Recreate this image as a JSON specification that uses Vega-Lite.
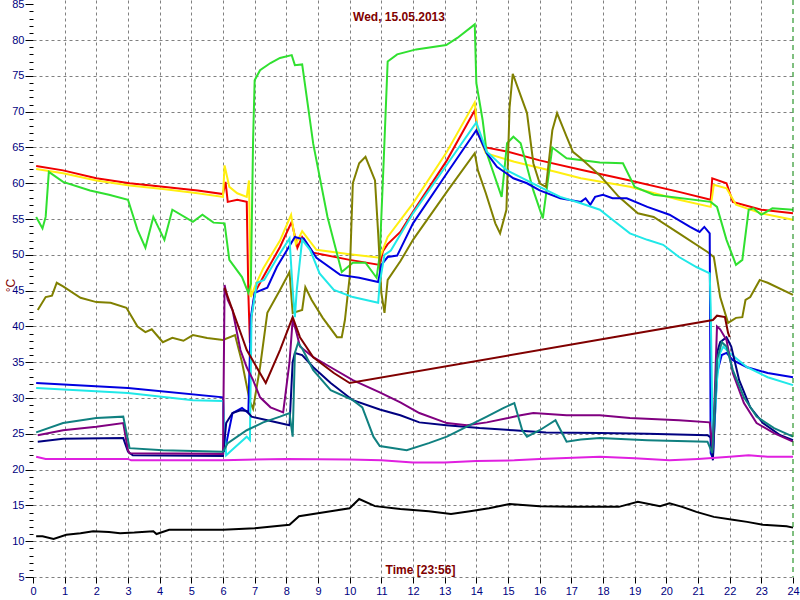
{
  "$schema": "https://vega.github.io/schema/vega-lite/v6.json",
  "width": 760,
  "height": 577,
  "autosize": "none",
  "padding": {"left": 33, "top": 0, "right": 7, "bottom": 23},
  "background": "#ffffff",
  "config": {"view": {"stroke": null}},
  "title": {"text": "Wed, 15.05.2013", "offset": -31, "baseline": "middle", "dx": -14, "color": "#800000", "font": "Liberation Sans", "fontSize": 12, "fontWeight": "bold", "anchor": "middle", "frame": "group"},
  "layer": [
    {
      "data": {"values": [
        {"s":"red","h":0.1,"v":62.4},{"s":"red","h":0.95,"v":61.8},{"s":"red","h":2,"v":60.7},{"s":"red","h":3.05,"v":60.0},{"s":"red","h":4.1,"v":59.5},{"s":"red","h":5.2,"v":59.0},{"s":"red","h":6.0,"v":58.5},{"s":"red","h":6.08,"v":60.2},{"s":"red","h":6.15,"v":57.4},{"s":"red","h":6.45,"v":57.7},{"s":"red","h":6.75,"v":57.4},{"s":"red","h":6.8,"v":44.7},{"s":"red","h":6.85,"v":37.7},{"s":"red","h":6.9,"v":41.3},{"s":"red","h":7.0,"v":44.7},{"s":"red","h":7.27,"v":46.9},{"s":"red","h":7.8,"v":51.1},{"s":"red","h":8.17,"v":54.6},{"s":"red","h":8.35,"v":51.0},{"s":"red","h":8.5,"v":52.5},{"s":"red","h":8.85,"v":50.3},{"s":"red","h":10.0,"v":49.3},{"s":"red","h":10.95,"v":48.6},{"s":"red","h":11.05,"v":50.5},{"s":"red","h":11.2,"v":51.5},{"s":"red","h":11.6,"v":53.2},{"s":"red","h":12.0,"v":56.0},{"s":"red","h":13.07,"v":63.2},{"s":"red","h":13.95,"v":70.2},{"s":"red","h":14.05,"v":67.0},{"s":"red","h":14.3,"v":65.0},{"s":"red","h":15.0,"v":64.4},{"s":"red","h":16.0,"v":63.2},{"s":"red","h":17.3,"v":61.9},{"s":"red","h":18.85,"v":60.4},{"s":"red","h":20.4,"v":58.8},{"s":"red","h":21.4,"v":57.7},{"s":"red","h":21.45,"v":60.7},{"s":"red","h":21.9,"v":60.0},{"s":"red","h":22.1,"v":57.4},{"s":"red","h":23.0,"v":56.3},{"s":"red","h":24.0,"v":55.8},

        {"s":"yellow","h":0.1,"v":62.0},{"s":"yellow","h":0.95,"v":61.4},{"s":"yellow","h":2,"v":60.4},{"s":"yellow","h":3.05,"v":59.7},{"s":"yellow","h":4.1,"v":59.2},{"s":"yellow","h":5.2,"v":58.6},{"s":"yellow","h":6.0,"v":58.1},{"s":"yellow","h":6.05,"v":62.5},{"s":"yellow","h":6.2,"v":59.5},{"s":"yellow","h":6.45,"v":58.6},{"s":"yellow","h":6.75,"v":58.1},{"s":"yellow","h":6.82,"v":60.4},{"s":"yellow","h":6.88,"v":44.1},{"s":"yellow","h":7.0,"v":45.5},{"s":"yellow","h":7.27,"v":48.1},{"s":"yellow","h":7.8,"v":52.0},{"s":"yellow","h":8.15,"v":55.6},{"s":"yellow","h":8.3,"v":51.5},{"s":"yellow","h":8.5,"v":53.3},{"s":"yellow","h":8.95,"v":50.7},{"s":"yellow","h":10.0,"v":50.1},{"s":"yellow","h":10.95,"v":49.6},{"s":"yellow","h":11.2,"v":52.5},{"s":"yellow","h":12.0,"v":57.2},{"s":"yellow","h":13.07,"v":64.4},{"s":"yellow","h":13.95,"v":71.3},{"s":"yellow","h":14.05,"v":67.0},{"s":"yellow","h":14.3,"v":64.2},{"s":"yellow","h":15.2,"v":63.0},{"s":"yellow","h":16.5,"v":61.6},{"s":"yellow","h":17.3,"v":60.7},{"s":"yellow","h":18.85,"v":59.5},{"s":"yellow","h":20.4,"v":57.7},{"s":"yellow","h":21.4,"v":56.7},{"s":"yellow","h":21.5,"v":59.8},{"s":"yellow","h":21.9,"v":59.3},{"s":"yellow","h":22.2,"v":57.0},{"s":"yellow","h":23.0,"v":55.8},{"s":"yellow","h":24.0,"v":54.9},

        {"s":"green","h":0.1,"v":55.3},{"s":"green","h":0.3,"v":53.7},{"s":"green","h":0.4,"v":55.3},{"s":"green","h":0.5,"v":61.6},{"s":"green","h":0.95,"v":60.2},{"s":"green","h":1.8,"v":59.0},{"s":"green","h":2.4,"v":58.4},{"s":"green","h":3.0,"v":57.7},{"s":"green","h":3.3,"v":53.5},{"s":"green","h":3.55,"v":51.0},{"s":"green","h":3.8,"v":55.3},{"s":"green","h":4.15,"v":52.1},{"s":"green","h":4.4,"v":56.3},{"s":"green","h":5.05,"v":54.6},{"s":"green","h":5.35,"v":55.6},{"s":"green","h":5.7,"v":54.5},{"s":"green","h":6.05,"v":54.4},{"s":"green","h":6.2,"v":49.3},{"s":"green","h":6.6,"v":46.9},{"s":"green","h":6.8,"v":44.7},{"s":"green","h":6.88,"v":46.0},{"s":"green","h":6.95,"v":66.0},{"s":"green","h":7.0,"v":74.4},{"s":"green","h":7.17,"v":75.8},{"s":"green","h":7.5,"v":76.8},{"s":"green","h":7.8,"v":77.5},{"s":"green","h":8.17,"v":77.9},{"s":"green","h":8.27,"v":76.5},{"s":"green","h":8.5,"v":76.6},{"s":"green","h":8.85,"v":65.5},{"s":"green","h":9.3,"v":55.3},{"s":"green","h":9.75,"v":47.6},{"s":"green","h":10.1,"v":48.9},{"s":"green","h":10.5,"v":48.9},{"s":"green","h":10.85,"v":46.8},{"s":"green","h":10.95,"v":50.0},{"s":"green","h":11.08,"v":63.7},{"s":"green","h":11.2,"v":77.0},{"s":"green","h":11.5,"v":78.0},{"s":"green","h":12.1,"v":78.7},{"s":"green","h":13.05,"v":79.3},{"s":"green","h":13.4,"v":80.3},{"s":"green","h":13.95,"v":82.2},{"s":"green","h":14.0,"v":74.0},{"s":"green","h":14.2,"v":68.8},{"s":"green","h":14.33,"v":64.2},{"s":"green","h":14.8,"v":58.1},{"s":"green","h":14.97,"v":65.6},{"s":"green","h":15.17,"v":66.5},{"s":"green","h":15.4,"v":65.6},{"s":"green","h":15.8,"v":59.0},{"s":"green","h":16.1,"v":55.1},{"s":"green","h":16.4,"v":65.0},{"s":"green","h":16.85,"v":63.5},{"s":"green","h":17.9,"v":62.9},{"s":"green","h":18.63,"v":62.8},{"s":"green","h":19.0,"v":59.5},{"s":"green","h":19.6,"v":58.4},{"s":"green","h":21.4,"v":57.4},{"s":"green","h":21.6,"v":56.7},{"s":"green","h":21.9,"v":52.1},{"s":"green","h":22.2,"v":48.6},{"s":"green","h":22.4,"v":49.3},{"s":"green","h":22.6,"v":56.3},{"s":"green","h":22.75,"v":56.5},{"s":"green","h":23.0,"v":55.6},{"s":"green","h":23.35,"v":56.5},{"s":"green","h":24.0,"v":56.3},

        {"s":"olive","h":0.15,"v":42.3},{"s":"olive","h":0.4,"v":44.1},{"s":"olive","h":0.6,"v":44.3},{"s":"olive","h":0.75,"v":46.1},{"s":"olive","h":0.95,"v":45.6},{"s":"olive","h":1.5,"v":44.0},{"s":"olive","h":2.0,"v":43.4},{"s":"olive","h":2.45,"v":43.3},{"s":"olive","h":2.95,"v":42.6},{"s":"olive","h":3.3,"v":40.0},{"s":"olive","h":3.55,"v":39.2},{"s":"olive","h":3.75,"v":39.6},{"s":"olive","h":4.1,"v":37.8},{"s":"olive","h":4.4,"v":38.4},{"s":"olive","h":4.75,"v":38.0},{"s":"olive","h":5.05,"v":38.8},{"s":"olive","h":5.5,"v":38.4},{"s":"olive","h":6.0,"v":38.1},{"s":"olive","h":6.38,"v":38.8},{"s":"olive","h":6.6,"v":35.0},{"s":"olive","h":6.85,"v":29.5},{"s":"olive","h":6.95,"v":28.5},{"s":"olive","h":7.17,"v":34.3},{"s":"olive","h":7.4,"v":41.9},{"s":"olive","h":7.8,"v":45.1},{"s":"olive","h":8.1,"v":47.6},{"s":"olive","h":8.2,"v":41.9},{"s":"olive","h":8.5,"v":42.3},{"s":"olive","h":8.6,"v":45.5},{"s":"olive","h":8.8,"v":43.7},{"s":"olive","h":9.15,"v":41.2},{"s":"olive","h":9.6,"v":38.5},{"s":"olive","h":9.75,"v":38.5},{"s":"olive","h":9.85,"v":40.9},{"s":"olive","h":10.0,"v":46.9},{"s":"olive","h":10.1,"v":60.0},{"s":"olive","h":10.3,"v":62.8},{"s":"olive","h":10.5,"v":63.7},{"s":"olive","h":10.8,"v":60.4},{"s":"olive","h":10.9,"v":53.0},{"s":"olive","h":11.0,"v":44.7},{"s":"olive","h":11.1,"v":41.9},{"s":"olive","h":11.2,"v":46.5},{"s":"olive","h":11.6,"v":49.1},{"s":"olive","h":12.0,"v":52.1},{"s":"olive","h":13.1,"v":59.0},{"s":"olive","h":13.95,"v":64.2},{"s":"olive","h":14.05,"v":61.8},{"s":"olive","h":14.3,"v":58.6},{"s":"olive","h":14.6,"v":54.4},{"s":"olive","h":14.75,"v":53.0},{"s":"olive","h":14.95,"v":56.3},{"s":"olive","h":15.05,"v":70.6},{"s":"olive","h":15.15,"v":75.3},{"s":"olive","h":15.6,"v":69.8},{"s":"olive","h":15.8,"v":62.8},{"s":"olive","h":16.0,"v":60.0},{"s":"olive","h":16.2,"v":59.5},{"s":"olive","h":16.4,"v":67.4},{"s":"olive","h":16.55,"v":69.8},{"s":"olive","h":16.85,"v":66.5},{"s":"olive","h":17.05,"v":64.4},{"s":"olive","h":17.3,"v":63.5},{"s":"olive","h":17.9,"v":61.1},{"s":"olive","h":18.5,"v":58.1},{"s":"olive","h":19.1,"v":55.8},{"s":"olive","h":19.6,"v":55.3},{"s":"olive","h":20.4,"v":53.0},{"s":"olive","h":21.3,"v":50.4},{"s":"olive","h":21.5,"v":49.7},{"s":"olive","h":21.7,"v":44.1},{"s":"olive","h":21.95,"v":40.5},{"s":"olive","h":22.2,"v":41.2},{"s":"olive","h":22.4,"v":41.3},{"s":"olive","h":22.5,"v":43.7},{"s":"olive","h":22.65,"v":44.1},{"s":"olive","h":22.95,"v":46.5},{"s":"olive","h":23.2,"v":46.1},{"s":"olive","h":24.0,"v":44.4},

        {"s":"blue","h":0.1,"v":32.1},{"s":"blue","h":3.0,"v":31.4},{"s":"blue","h":6.0,"v":30.1},{"s":"blue","h":6.05,"v":22.5},{"s":"blue","h":6.3,"v":27.9},{"s":"blue","h":6.6,"v":28.6},{"s":"blue","h":6.8,"v":27.9},{"s":"blue","h":6.88,"v":41.3},{"s":"blue","h":7.0,"v":44.7},{"s":"blue","h":7.4,"v":45.4},{"s":"blue","h":7.7,"v":48.3},{"s":"blue","h":8.27,"v":52.5},{"s":"blue","h":8.43,"v":52.3},{"s":"blue","h":8.55,"v":52.3},{"s":"blue","h":8.95,"v":49.6},{"s":"blue","h":9.7,"v":47.2},{"s":"blue","h":10.3,"v":46.8},{"s":"blue","h":10.9,"v":46.2},{"s":"blue","h":11.0,"v":48.6},{"s":"blue","h":11.2,"v":49.7},{"s":"blue","h":11.5,"v":49.9},{"s":"blue","h":12.0,"v":54.4},{"s":"blue","h":13.07,"v":61.4},{"s":"blue","h":14.0,"v":67.4},{"s":"blue","h":14.33,"v":64.2},{"s":"blue","h":14.65,"v":62.3},{"s":"blue","h":15.17,"v":60.7},{"s":"blue","h":15.6,"v":60.0},{"s":"blue","h":16.0,"v":59.0},{"s":"blue","h":16.65,"v":57.9},{"s":"blue","h":17.3,"v":57.4},{"s":"blue","h":17.45,"v":57.9},{"s":"blue","h":17.6,"v":57.0},{"s":"blue","h":17.75,"v":58.1},{"s":"blue","h":18.0,"v":58.4},{"s":"blue","h":18.3,"v":57.9},{"s":"blue","h":18.75,"v":57.9},{"s":"blue","h":19.4,"v":56.7},{"s":"blue","h":20.1,"v":55.6},{"s":"blue","h":20.75,"v":53.9},{"s":"blue","h":21.05,"v":53.2},{"s":"blue","h":21.2,"v":53.9},{"s":"blue","h":21.37,"v":53.0},{"s":"blue","h":21.4,"v":22.3},{"s":"blue","h":21.47,"v":21.6},{"s":"blue","h":21.6,"v":33.5},{"s":"blue","h":21.75,"v":36.0},{"s":"blue","h":21.9,"v":36.3},{"s":"blue","h":22.1,"v":35.3},{"s":"blue","h":22.55,"v":34.3},{"s":"blue","h":23.2,"v":33.5},{"s":"blue","h":24.0,"v":32.9},

        {"s":"cyan","h":0.1,"v":31.4},{"s":"cyan","h":3.0,"v":30.7},{"s":"cyan","h":5.05,"v":29.7},{"s":"cyan","h":6.0,"v":29.6},{"s":"cyan","h":6.1,"v":22.0},{"s":"cyan","h":6.3,"v":22.8},{"s":"cyan","h":6.75,"v":24.6},{"s":"cyan","h":6.85,"v":24.1},{"s":"cyan","h":6.9,"v":41.3},{"s":"cyan","h":7.07,"v":46.1},{"s":"cyan","h":7.3,"v":46.5},{"s":"cyan","h":7.7,"v":49.5},{"s":"cyan","h":8.1,"v":52.3},{"s":"cyan","h":8.2,"v":45.1},{"s":"cyan","h":8.27,"v":41.3},{"s":"cyan","h":8.33,"v":45.1},{"s":"cyan","h":8.5,"v":52.1},{"s":"cyan","h":8.75,"v":50.7},{"s":"cyan","h":9.05,"v":47.4},{"s":"cyan","h":9.5,"v":45.1},{"s":"cyan","h":10.1,"v":44.1},{"s":"cyan","h":10.9,"v":43.3},{"s":"cyan","h":10.95,"v":46.1},{"s":"cyan","h":11.1,"v":50.0},{"s":"cyan","h":11.3,"v":50.6},{"s":"cyan","h":12.0,"v":55.8},{"s":"cyan","h":13.1,"v":62.8},{"s":"cyan","h":14.0,"v":68.5},{"s":"cyan","h":14.33,"v":64.4},{"s":"cyan","h":14.97,"v":61.8},{"s":"cyan","h":16.0,"v":59.5},{"s":"cyan","h":16.65,"v":58.1},{"s":"cyan","h":17.3,"v":57.2},{"s":"cyan","h":17.9,"v":56.3},{"s":"cyan","h":18.3,"v":54.9},{"s":"cyan","h":18.85,"v":53.0},{"s":"cyan","h":19.4,"v":52.1},{"s":"cyan","h":19.9,"v":51.4},{"s":"cyan","h":20.4,"v":49.7},{"s":"cyan","h":20.95,"v":48.3},{"s":"cyan","h":21.37,"v":47.4},{"s":"cyan","h":21.4,"v":42.7},{"s":"cyan","h":21.47,"v":22.3},{"s":"cyan","h":21.6,"v":32.5},{"s":"cyan","h":21.7,"v":36.3},{"s":"cyan","h":21.8,"v":37.2},{"s":"cyan","h":22.0,"v":36.3},{"s":"cyan","h":22.55,"v":34.3},{"s":"cyan","h":23.2,"v":32.9},{"s":"cyan","h":24.0,"v":31.8},

        {"s":"navy","h":0.15,"v":23.9},{"s":"navy","h":0.95,"v":24.3},{"s":"navy","h":2.85,"v":24.4},{"s":"navy","h":3.0,"v":22.5},{"s":"navy","h":3.15,"v":22.0},{"s":"navy","h":6.0,"v":21.9},{"s":"navy","h":6.1,"v":26.5},{"s":"navy","h":6.3,"v":27.9},{"s":"navy","h":6.55,"v":28.3},{"s":"navy","h":6.75,"v":28.2},{"s":"navy","h":6.9,"v":27.4},{"s":"navy","h":7.4,"v":26.9},{"s":"navy","h":8.1,"v":26.2},{"s":"navy","h":8.2,"v":35.0},{"s":"navy","h":8.27,"v":36.3},{"s":"navy","h":8.5,"v":36.0},{"s":"navy","h":8.85,"v":34.3},{"s":"navy","h":9.4,"v":32.1},{"s":"navy","h":10.1,"v":29.7},{"s":"navy","h":10.95,"v":28.4},{"s":"navy","h":11.6,"v":27.6},{"s":"navy","h":12.2,"v":26.6},{"s":"navy","h":13.05,"v":26.2},{"s":"navy","h":14.1,"v":25.8},{"s":"navy","h":15.17,"v":25.5},{"s":"navy","h":16.2,"v":25.2},{"s":"navy","h":17.9,"v":25.1},{"s":"navy","h":19.4,"v":25.0},{"s":"navy","h":21.3,"v":24.8},{"s":"navy","h":21.4,"v":24.5},{"s":"navy","h":21.47,"v":21.3},{"s":"navy","h":21.6,"v":36.3},{"s":"navy","h":21.7,"v":37.8},{"s":"navy","h":21.9,"v":38.5},{"s":"navy","h":22.05,"v":37.2},{"s":"navy","h":22.3,"v":32.5},{"s":"navy","h":22.65,"v":28.7},{"s":"navy","h":23.05,"v":26.5},{"s":"navy","h":23.6,"v":24.8},{"s":"navy","h":24.0,"v":24.1},

        {"s":"purple","h":0.15,"v":24.8},{"s":"purple","h":0.95,"v":25.5},{"s":"purple","h":2.0,"v":26.0},{"s":"purple","h":2.85,"v":26.5},{"s":"purple","h":3.0,"v":22.7},{"s":"purple","h":3.05,"v":22.3},{"s":"purple","h":6.0,"v":22.2},{"s":"purple","h":6.05,"v":45.8},{"s":"purple","h":6.15,"v":43.7},{"s":"purple","h":6.3,"v":42.3},{"s":"purple","h":6.55,"v":36.7},{"s":"purple","h":6.75,"v":34.3},{"s":"purple","h":6.95,"v":32.5},{"s":"purple","h":7.17,"v":30.1},{"s":"purple","h":7.5,"v":28.7},{"s":"purple","h":7.9,"v":28.0},{"s":"purple","h":8.1,"v":35.0},{"s":"purple","h":8.2,"v":40.9},{"s":"purple","h":8.3,"v":39.5},{"s":"purple","h":8.43,"v":37.2},{"s":"purple","h":8.85,"v":35.7},{"s":"purple","h":9.4,"v":34.3},{"s":"purple","h":10.1,"v":32.5},{"s":"purple","h":10.95,"v":30.8},{"s":"purple","h":11.6,"v":29.4},{"s":"purple","h":12.2,"v":27.9},{"s":"purple","h":13.07,"v":26.5},{"s":"purple","h":13.7,"v":26.2},{"s":"purple","h":14.33,"v":26.6},{"s":"purple","h":15.0,"v":27.2},{"s":"purple","h":15.4,"v":27.6},{"s":"purple","h":15.8,"v":27.9},{"s":"purple","h":16.85,"v":27.6},{"s":"purple","h":17.9,"v":27.6},{"s":"purple","h":18.85,"v":27.2},{"s":"purple","h":20.4,"v":26.9},{"s":"purple","h":21.37,"v":26.6},{"s":"purple","h":21.47,"v":22.7},{"s":"purple","h":21.6,"v":40.0},{"s":"purple","h":21.7,"v":39.6},{"s":"purple","h":21.9,"v":38.1},{"s":"purple","h":22.1,"v":33.5},{"s":"purple","h":22.45,"v":29.3},{"s":"purple","h":22.85,"v":26.5},{"s":"purple","h":23.4,"v":25.1},{"s":"purple","h":24.0,"v":23.9},

        {"s":"teal","h":0.1,"v":25.2},{"s":"teal","h":0.95,"v":26.5},{"s":"teal","h":2.0,"v":27.2},{"s":"teal","h":2.85,"v":27.4},{"s":"teal","h":3.05,"v":23.0},{"s":"teal","h":4.1,"v":22.7},{"s":"teal","h":6.0,"v":22.5},{"s":"teal","h":6.15,"v":23.7},{"s":"teal","h":6.75,"v":25.5},{"s":"teal","h":7.27,"v":26.6},{"s":"teal","h":7.8,"v":27.4},{"s":"teal","h":8.1,"v":27.9},{"s":"teal","h":8.2,"v":24.6},{"s":"teal","h":8.27,"v":36.3},{"s":"teal","h":8.37,"v":37.7},{"s":"teal","h":8.5,"v":36.9},{"s":"teal","h":8.85,"v":33.9},{"s":"teal","h":9.4,"v":31.1},{"s":"teal","h":10.1,"v":29.7},{"s":"teal","h":10.4,"v":28.7},{"s":"teal","h":10.75,"v":24.6},{"s":"teal","h":10.95,"v":23.3},{"s":"teal","h":11.8,"v":22.7},{"s":"teal","h":12.5,"v":23.7},{"s":"teal","h":13.07,"v":24.6},{"s":"teal","h":13.7,"v":26.0},{"s":"teal","h":14.33,"v":27.4},{"s":"teal","h":14.85,"v":28.6},{"s":"teal","h":15.2,"v":29.3},{"s":"teal","h":15.45,"v":25.5},{"s":"teal","h":15.6,"v":24.6},{"s":"teal","h":16.0,"v":25.5},{"s":"teal","h":16.5,"v":26.9},{"s":"teal","h":16.85,"v":23.9},{"s":"teal","h":17.3,"v":24.2},{"s":"teal","h":17.9,"v":24.4},{"s":"teal","h":19.4,"v":24.1},{"s":"teal","h":21.3,"v":23.9},{"s":"teal","h":21.45,"v":22.3},{"s":"teal","h":21.6,"v":35.3},{"s":"teal","h":21.75,"v":37.8},{"s":"teal","h":21.9,"v":37.2},{"s":"teal","h":22.1,"v":33.9},{"s":"teal","h":22.45,"v":30.1},{"s":"teal","h":22.85,"v":27.4},{"s":"teal","h":23.4,"v":25.8},{"s":"teal","h":24.0,"v":24.6},

        {"s":"maroon","h":6.05,"v":45.4},{"s":"maroon","h":6.3,"v":42.3},{"s":"maroon","h":6.75,"v":36.7},{"s":"maroon","h":7.35,"v":32.1},{"s":"maroon","h":7.8,"v":36.7},{"s":"maroon","h":8.2,"v":41.3},{"s":"maroon","h":8.43,"v":38.5},{"s":"maroon","h":8.85,"v":35.7},{"s":"maroon","h":9.5,"v":33.5},{"s":"maroon","h":10.0,"v":32.1},{"s":"maroon","h":21.47,"v":40.9},{"s":"maroon","h":21.6,"v":41.5},{"s":"maroon","h":21.85,"v":41.3},{"s":"maroon","h":21.95,"v":39.1},{"s":"maroon","h":22.0,"v":38.5},

        {"s":"magenta","h":0.1,"v":21.8},{"s":"magenta","h":0.4,"v":21.5},{"s":"magenta","h":3.0,"v":21.5},{"s":"magenta","h":3.1,"v":21.3},{"s":"magenta","h":6.0,"v":21.3},{"s":"magenta","h":8.0,"v":21.5},{"s":"magenta","h":10.0,"v":21.4},{"s":"magenta","h":11.0,"v":21.3},{"s":"magenta","h":12.0,"v":21.0},{"s":"magenta","h":13.0,"v":21.0},{"s":"magenta","h":14.0,"v":21.2},{"s":"magenta","h":15.2,"v":21.3},{"s":"magenta","h":16.0,"v":21.5},{"s":"magenta","h":17.9,"v":21.8},{"s":"magenta","h":19.0,"v":21.6},{"s":"magenta","h":20.1,"v":21.3},{"s":"magenta","h":21.0,"v":21.5},{"s":"magenta","h":22.0,"v":21.8},{"s":"magenta","h":22.6,"v":22.0},{"s":"magenta","h":23.2,"v":21.8},{"s":"magenta","h":24.0,"v":21.8},

        {"s":"black","h":0.1,"v":10.7},{"s":"black","h":0.3,"v":10.7},{"s":"black","h":0.65,"v":10.3},{"s":"black","h":1.05,"v":10.9},{"s":"black","h":1.5,"v":11.1},{"s":"black","h":1.9,"v":11.4},{"s":"black","h":2.4,"v":11.3},{"s":"black","h":2.75,"v":11.1},{"s":"black","h":3.2,"v":11.2},{"s":"black","h":3.8,"v":11.4},{"s":"black","h":3.9,"v":11.0},{"s":"black","h":4.3,"v":11.6},{"s":"black","h":5.3,"v":11.6},{"s":"black","h":6.0,"v":11.6},{"s":"black","h":7.0,"v":11.8},{"s":"black","h":8.1,"v":12.3},{"s":"black","h":8.4,"v":13.5},{"s":"black","h":9.4,"v":14.2},{"s":"black","h":10.0,"v":14.6},{"s":"black","h":10.3,"v":15.9},{"s":"black","h":10.8,"v":14.9},{"s":"black","h":11.6,"v":14.5},{"s":"black","h":12.5,"v":14.2},{"s":"black","h":13.2,"v":13.8},{"s":"black","h":13.8,"v":14.2},{"s":"black","h":14.4,"v":14.6},{"s":"black","h":15.05,"v":15.2},{"s":"black","h":16.0,"v":14.9},{"s":"black","h":17.0,"v":14.8},{"s":"black","h":17.9,"v":14.8},{"s":"black","h":18.5,"v":14.8},{"s":"black","h":19.1,"v":15.5},{"s":"black","h":19.8,"v":14.9},{"s":"black","h":20.1,"v":15.3},{"s":"black","h":20.5,"v":14.8},{"s":"black","h":20.95,"v":14.1},{"s":"black","h":21.5,"v":13.4},{"s":"black","h":22.1,"v":13.0},{"s":"black","h":22.55,"v":12.7},{"s":"black","h":23.05,"v":12.3},{"s":"black","h":23.8,"v":12.1},{"s":"black","h":24.0,"v":11.9}
      ]},
      "mark": {"type": "line", "strokeWidth": 2, "interpolate": "linear"},
      "encoding": {
        "x": {
          "field": "h", "type": "quantitative",
          "scale": {"domain": [0, 24], "nice": false, "zero": false},
          "axis": {
            "tickCount": 240, "format": "d",
            "labelExpr": "datum.value % 1 === 0 ? datum.label : ''",
            "labelOverlap": false, "labelFlush": false,
            "labelColor": "#000080", "labelFont": "Liberation Sans", "labelFontSize": 11, "labelPadding": 2,
            "tickColor": "#000000", "tickWidth": 1,
            "tickSize": {"condition": {"test": "datum.value % 1 === 0", "value": 6}, "value": 4},
            "domain": false,
            "grid": true, "gridColor": "#808080", "gridDash": [3, 3], "gridWidth": 1,
            "gridOpacity": {"condition": {"test": "datum.value % 1 === 0 && datum.value > 0 && datum.value < 24", "value": 1}, "value": 0},
            "title": "Time [23:56]", "titleX": 387, "titleY": -8, "titleBaseline": "middle", "titleAlign": "center",
            "titleColor": "#800000", "titleFont": "Liberation Sans", "titleFontSize": 12, "titleFontWeight": "bold"
          }
        },
        "y": {
          "field": "v", "type": "quantitative",
          "scale": {"domain": [5, 85.6], "nice": false, "zero": false},
          "axis": {
            "tickCount": 80,
            "labelExpr": "datum.value % 5 === 0 ? datum.label : ''",
            "labelOverlap": false, "labelFlush": false,
            "labelColor": "#000080", "labelFont": "Liberation Sans", "labelFontSize": 11, "labelPadding": 1,
            "tickColor": "#000000", "tickWidth": 1,
            "tickSize": {"condition": {"test": "datum.value % 5 === 0", "value": 8}, "value": 4},
            "domain": false,
            "grid": true, "gridColor": "#808080", "gridDash": [3, 3], "gridWidth": 1,
            "gridOpacity": {"condition": {"test": "datum.value % 5 === 0 && datum.value < 85", "value": 1}, "value": 0},
            "title": "°C", "titleX": -23, "titleY": 285, "titleAngle": 270, "titleBaseline": "middle", "titleAlign": "center",
            "titleColor": "#800000", "titleFont": "Liberation Sans", "titleFontSize": 12, "titleFontWeight": "normal"
          }
        },
        "color": {
          "field": "s", "type": "nominal",
          "scale": {
            "domain": ["magenta", "black", "teal", "navy", "purple", "maroon", "olive", "green", "cyan", "blue", "yellow", "red"],
            "range": ["#E020E0", "#000000", "#108080", "#000080", "#800080", "#800000", "#808000", "#30E030", "#20E8E8", "#0000E0", "#FFEF10", "#F00000"]
          },
          "legend": null
        }
      }
    },
    {
      "data": {"values": [{"h": 24}]},
      "mark": {"type": "rule", "color": "#008000", "strokeDash": [5, 4], "strokeWidth": 1},
      "encoding": {"x": {"field": "h", "type": "quantitative"}}
    }
  ]
}
